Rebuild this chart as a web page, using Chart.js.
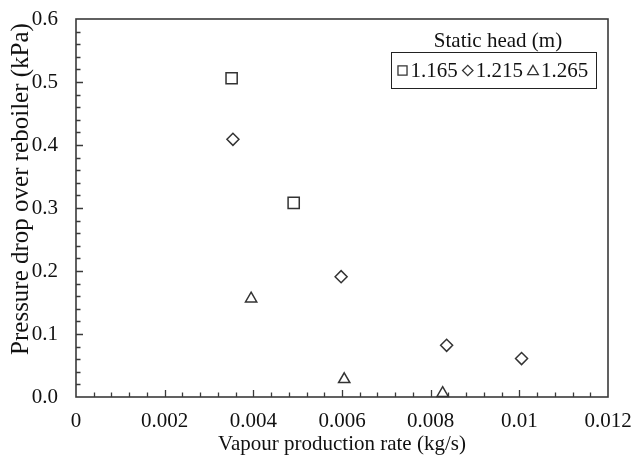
<!DOCTYPE html>
<html>
<head>
<meta charset="utf-8">
<script src="https://cdn.jsdelivr.net/npm/chart.js@4/dist/chart.umd.min.js"></script>
<style>
  html, body { margin: 0; padding: 0; background: #fff; }
  #wrap { width: 632px; height: 459px; }
</style>
</head>
<body>
<div id="wrap"><canvas id="c" width="632" height="459"></canvas></div>
<script>
// ---- data ----
const seriesLabels = ['1.165', '1.215', '1.265'];
const legendTitle = 'Static head (m)';
const xTitle = 'Vapour production rate (kg/s)';
const yTitle = 'Pressure drop over reboiler (kPa)';

const sq_x = [0.00351, 0.00491];
const sq_y = [0.506, 0.308];
const di_x = [0.00354, 0.00598, 0.00836, 0.01005];
const di_y = [0.409, 0.191, 0.082, 0.061];
const tr_x = [0.00395, 0.00605, 0.00827];
const tr_y = [0.156, 0.028, 0.006];

const xTickLabels = ['0', '0.002', '0.004', '0.006', '0.008', '0.01', '0.012'];
const yTickLabels = ['0.0', '0.1', '0.2', '0.3', '0.4', '0.5', '0.6'];

const toPts = (xs, ys) => xs.map((v, i) => ({ x: v, y: ys[i] }));

const FONT = "'Liberation Serif', 'Times New Roman', serif";
const INK = '#333333';
const TXT = '#111111';

const boxTicks = {
  id: 'boxTicks',
  beforeDatasetsDraw(chart) {
    const { ctx, chartArea: a, scales: { x, y } } = chart;
    ctx.save();
    ctx.strokeStyle = '#3a3a3a';
    ctx.lineWidth = 1.6;
    ctx.strokeRect(a.left, a.top, a.right - a.left, a.bottom - a.top);
    ctx.lineWidth = 1.3;
    ctx.beginPath();
    const xMinor = 0.0004, yMinor = 0.02;
    for (let i = 1; i < 30; i++) {
      const px = Math.round(x.getPixelForValue(i * xMinor)) + 0.5;
      const len = i % 5 === 0 ? 7 : 4.5;
      ctx.moveTo(px, a.bottom);
      ctx.lineTo(px, a.bottom - len);
    }
    for (let i = 1; i < 30; i++) {
      const py = Math.round(y.getPixelForValue(i * yMinor)) + 0.5;
      const len = i % 5 === 0 ? 7 : 4.5;
      ctx.moveTo(a.left, py);
      ctx.lineTo(a.left + len, py);
    }
    ctx.stroke();
    // y axis title (drawn manually, offset like the reference)
    ctx.fillStyle = TXT;
    ctx.font = '25px ' + FONT;
    ctx.textAlign = 'center';
    ctx.textBaseline = 'middle';
    ctx.translate(21, 189);
    ctx.rotate(-Math.PI / 2);
    ctx.fillText(yTitle, 0, 0);
    ctx.restore();
  }
};

function drawMarker(ctx, style, x, y, r) {
  if (Chart.helpers && Chart.helpers.drawPoint) {
    Chart.helpers.drawPoint(ctx, { pointStyle: style, radius: r, rotation: 0, borderWidth: ctx.lineWidth }, x, y);
    return;
  }
  ctx.beginPath();
  if (style === 'rect') {
    const s = r * Math.SQRT1_2; ctx.rect(x - s, y - s, 2 * s, 2 * s);
  } else if (style === 'rectRot') {
    ctx.moveTo(x - r, y); ctx.lineTo(x, y - r); ctx.lineTo(x + r, y); ctx.lineTo(x, y + r); ctx.closePath();
  } else {
    ctx.moveTo(x, y - r);
    ctx.lineTo(x + r * Math.sin(2 * Math.PI / 3), y - r * Math.cos(2 * Math.PI / 3));
    ctx.lineTo(x + r * Math.sin(4 * Math.PI / 3), y - r * Math.cos(4 * Math.PI / 3));
    ctx.closePath();
  }
  ctx.stroke();
}

const customLegend = {
  id: 'customLegend',
  afterDraw(chart) {
    const { ctx } = chart;
    ctx.save();
    ctx.fillStyle = TXT;
    ctx.font = '21px ' + FONT;
    ctx.textAlign = 'center';
    ctx.textBaseline = 'middle';
    ctx.fillText(legendTitle, 498, 41);
    ctx.strokeStyle = '#222';
    ctx.lineWidth = 1;
    ctx.strokeRect(391.5, 52.5, 205, 36);
    const styles = chart.data.datasets.map(d => d.pointStyle);
    const radii = [6.4, 5.2, 6.2];
    let cx = 402.5;
    ctx.textAlign = 'left';
    chart.data.datasets.forEach((d, i) => {
      ctx.strokeStyle = INK;
      ctx.fillStyle = 'rgba(0,0,0,0)';
      ctx.lineWidth = 1.3;
      const yy = i === 2 ? 71.5 : 70.5;
      drawMarker(ctx, styles[i], cx, yy, radii[i]);
      ctx.fillStyle = TXT;
      const tx = cx + 8;
      ctx.fillText(d.label, tx, 71);
      cx = tx + ctx.measureText(d.label).width + 10;
    });
    ctx.restore();
  }
};

const common = {
  showLine: false,
  borderColor: INK,
  backgroundColor: 'rgba(0,0,0,0)',
  borderWidth: 1.5,
  clip: false
};

new Chart(document.getElementById('c'), {
  type: 'scatter',
  data: {
    datasets: [
      { ...common, label: seriesLabels[0], data: toPts(sq_x, sq_y), pointStyle: 'rect', pointRadius: 7.9 },
      { ...common, label: seriesLabels[1], data: toPts(di_x, di_y), pointStyle: 'rectRot', pointRadius: 6 },
      { ...common, label: seriesLabels[2], data: toPts(tr_x, tr_y), pointStyle: 'triangle', pointRadius: 6.5 }
    ]
  },
  options: {
    responsive: false,
    animation: false,
    devicePixelRatio: 1,
    layout: { padding: { left: 0, right: 24, top: 19, bottom: 0 } },
    plugins: {
      legend: { display: false },
      tooltip: { enabled: false }
    },
    scales: {
      x: {
        type: 'linear',
        min: 0, max: 0.012,
        afterFit: s => { s.height = 62; s.paddingLeft = 0; s.paddingRight = 0; },
        grid: { display: false, drawTicks: false },
        border: { display: false },
        ticks: {
          stepSize: 0.002,
          autoSkip: false,
          maxRotation: 0,
          padding: 12,
          color: TXT,
          font: { family: FONT, size: 21 },
          callback: (v, i) => xTickLabels[i]
        },
        title: {
          display: true,
          text: xTitle,
          color: TXT,
          font: { family: FONT, size: 21 },
          padding: { top: 0, bottom: 2 }
        }
      },
      y: {
        type: 'linear',
        min: 0, max: 0.6,
        afterFit: s => { s.width = 76; s.paddingTop = 0; s.paddingBottom = 0; },
        grid: { display: false, drawTicks: false },
        border: { display: false },
        ticks: {
          stepSize: 0.1,
          autoSkip: false,
          padding: 18,
          color: TXT,
          font: { family: FONT, size: 21 },
          callback: (v, i) => yTickLabels[i]
        },
        title: { display: false }
      }
    }
  },
  plugins: [boxTicks, customLegend]
});
</script>
</body>
</html>
